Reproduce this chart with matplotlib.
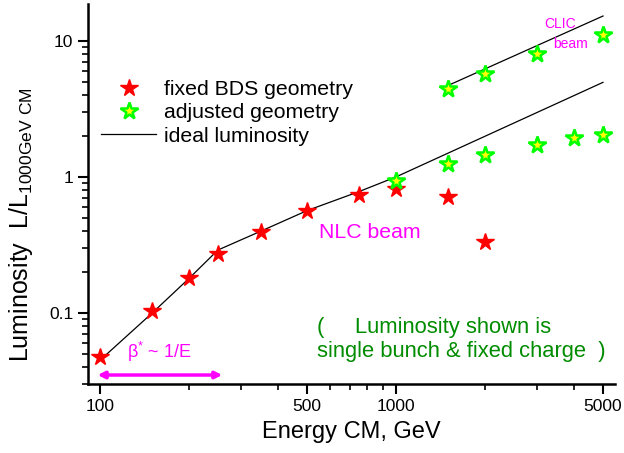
import matplotlib.pyplot as plt
from matplotlib.ticker import FixedLocator, NullFormatter, LogLocator

# fixed BDS geometry (NLC beam)
e_fixed = [100, 150, 200, 250, 350, 500, 750, 1000, 1500, 2000]
l_fixed = [0.0475, 0.103, 0.182, 0.273, 0.392, 0.562, 0.73, 0.81, 0.713, 0.333]

# adjusted geometry, NLC beam
e_adj_nlc = [1000, 1500, 2000, 3000, 4000, 5000]
l_adj_nlc = [0.925, 1.24, 1.45, 1.72, 1.92, 2.04]

# adjusted geometry, CLIC beam
e_adj_clic = [1500, 2000, 3000, 5000]
l_adj_clic = [4.4, 5.7, 7.98, 11.1]

# ideal luminosity
e_ideal = [100, 150, 200, 250, 350, 500, 750, 1000, 5000]
l_ideal = [0.045, 0.1, 0.18, 0.29, 0.40, 0.565, 0.78, 1.0, 4.95]
e_ideal_clic = [1500, 5000]
l_ideal_clic = [4.7, 15.2]

xticks = [100, 500, 1000, 5000]
xticklabels = ["100", "500", "1000", "5000"]
yticks = [0.1, 1, 10]
yticklabels = ["0.1", "1", "10"]

plt.rcParams["font.family"] = ["Liberation Sans", "DejaVu Sans"]
plt.rcParams["mathtext.fontset"] = "custom"
plt.rcParams["mathtext.rm"] = "Liberation Sans"
plt.rcParams["mathtext.it"] = "Liberation Sans"
plt.rcParams["mathtext.default"] = "regular"

fig = plt.figure(figsize=(6.24, 4.53), dpi=100)
ax = fig.add_axes([0.141, 0.152, 0.845, 0.839])

ax.set_xscale("log")
ax.set_yscale("log")

ax.plot(e_ideal, l_ideal, color="black", lw=0.9, label="ideal luminosity")
ax.plot(e_ideal_clic, l_ideal_clic, color="black", lw=0.9)

ax.plot(e_fixed, l_fixed, ls="none", marker="*", ms=13, color="red",
        mec="red", label="fixed BDS geometry")
ax.plot(e_adj_nlc, l_adj_nlc, ls="none", marker="*", ms=13, mfc="yellow",
        mec="#00ff00", mew=1.8, label="adjusted geometry")
ax.plot(e_adj_clic, l_adj_clic, ls="none", marker="*", ms=13, mfc="yellow",
        mec="#00ff00", mew=1.8)

ax.set_xlim(91, 5500)
ax.set_ylim(0.03, 18.6)

# ticks
ax.xaxis.set_major_locator(FixedLocator(xticks))
ax.set_xticklabels(xticklabels)
minors = [200, 300, 400, 600, 700, 800, 900, 2000, 3000, 4000]
ax.xaxis.set_minor_locator(FixedLocator(minors))
ax.xaxis.set_minor_formatter(NullFormatter())
ax.yaxis.set_major_locator(FixedLocator(yticks))
ax.set_yticklabels(yticklabels)
ax.yaxis.set_minor_locator(LogLocator(base=10, subs=range(2, 10)))
ax.yaxis.set_minor_formatter(NullFormatter())
ax.tick_params(which="major", direction="out", length=7, width=1.5, labelsize=12.5)
ax.tick_params(which="minor", direction="out", length=4, width=1.2)

for s in ["top", "right"]:
    ax.spines[s].set_visible(False)
for s in ["left", "bottom"]:
    ax.spines[s].set_linewidth(1.8)

ax.set_xlabel("Energy CM, GeV", fontsize=17, labelpad=5)
ax.set_ylabel(r"Luminosity  L/L$_{1000GeV\ CM}$", fontsize=18)
ax.yaxis.set_label_coords(-0.1, 0.42)

# legend
handles, labels = ax.get_legend_handles_labels()
order = [1, 2, 0]
ax.legend([handles[i] for i in order], [labels[i] for i in order],
          loc="upper left", bbox_to_anchor=(0.0085, 0.822), frameon=False,
          fontsize=15.3, handlelength=2.6, labelspacing=0.2,
          handletextpad=0.35, borderaxespad=0)

# annotations
ax.text(0.438, 0.40, "NLC beam", transform=ax.transAxes, color="magenta",
        fontsize=15.3, va="center")
ax.text(0.865, 0.947, "CLIC", transform=ax.transAxes, color="magenta",
        fontsize=10, va="center")
ax.text(0.882, 0.895, "beam", transform=ax.transAxes, color="magenta",
        fontsize=10, va="center")
ax.text(0.074, 0.085, r"β$^{*}$ ~ 1/E", transform=ax.transAxes,
        color="magenta", fontsize=13, va="center")
ax.annotate("", xy=(0.26, 0.024), xytext=(0.013, 0.024),
            xycoords="axes fraction",
            arrowprops=dict(arrowstyle="<|-|>", color="magenta", lw=2.5,
                            mutation_scale=10))
ax.text(0.434, 0.117, "(     Luminosity shown is\nsingle bunch & fixed charge  )",
        transform=ax.transAxes, color="#008c00", fontsize=15.8, va="center",
        linespacing=1.15)

fig.savefig("out.png", dpi=100)
